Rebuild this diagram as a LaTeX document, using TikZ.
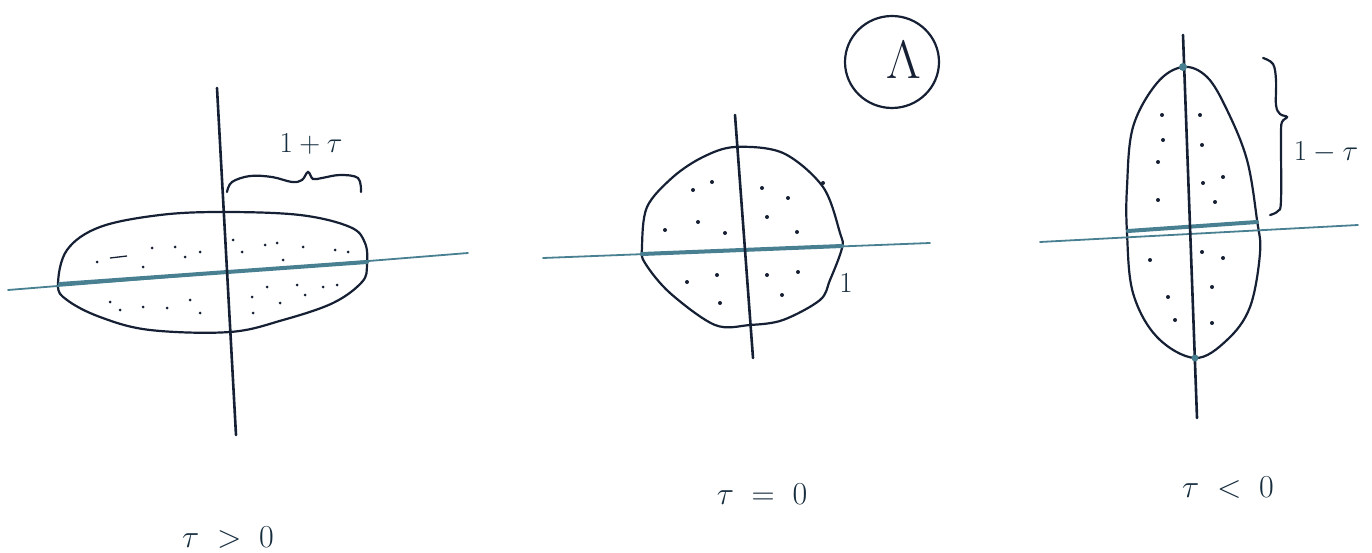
\RequirePackage{fix-cm}
\documentclass[tikz,border=0pt]{standalone}
\usetikzlibrary{calc}
\definecolor{axiscol}{RGB}{72,128,145}
\definecolor{inkcol}{RGB}{22,32,52}
\definecolor{textcol}{RGB}{22,45,62}
\begin{document}
\begin{tikzpicture}[x=1pt,y=-1pt,
  vaxis/.style={draw=inkcol,line width=2.6pt,line cap=round},
  haxis/.style={draw=axiscol,line width=1.8pt,line cap=round},
  diam/.style={draw=axiscol,line width=4pt,line cap=round},
  outline/.style={draw=inkcol,line width=2.2pt},
  brace/.style={draw=inkcol,line width=2.2pt,line cap=round},
  lbl/.style={text=textcol,inner sep=0pt,font=\fontsize{32}{38}\selectfont},
  small/.style={text=textcol,inner sep=0pt,font=\fontsize{29}{34}\selectfont},
  dotmark/.style={fill=inkcol,draw=none}]
\useasboundingbox (0,0) rectangle (1372,553);
\fill[white] (0,0) rectangle (1372,553);

% ---------- left figure: tau > 0 ----------
\coordinate (LvT) at (217,88);
\coordinate (LvB) at (236,435);
\coordinate (LhL) at (8,290);
\coordinate (LhR) at (468,253);
\coordinate (LeL) at (60,284);
\coordinate (LeR) at (367,262);
\draw[outline] plot[smooth cycle,tension=0.6] coordinates {
  (58,285) (67,250) (100,227) (160,215) (223,212) (300,215) (350,227) (365,243)
  (367,265) (362,282) (333,303) (283,320) (230,332) (150,330) (100,317) (67,300)};
\draw[haxis] (LhL) -- (LhR);
\draw[diam] (LeL) -- (LeR);
\draw[vaxis] (LvT) -- (LvB);
\foreach \p in {(97,262),(152,248),(143,267),(175,247),(185,257),(200,252),
  (233,240),(242,252),(265,245),(277,243),(283,260),(303,247),(335,250),(348,252),
  (110,302),(120,310),(143,307),(167,308),(190,300),(200,313),
  (252,297),(267,287),(280,303),(297,285),(305,295),(323,287),(337,285),(253,313)}
  \fill[dotmark] \p circle (1.5);
\draw[inkcol,line width=1.3pt] (110,258) -- (127,256);
\draw[brace] plot[smooth,tension=0.6] coordinates {
  (227,192) (232,182) (250,176) (272,177) (292,182) (302,180) (308,172) (313,179)
  (322,178) (340,175) (358,178) (361,192)};
\node[small] (Lbr) at (311,144) {$1+\tau$};
\node[lbl] (Llab) at (228,538) {$\tau\;>\;0$};

% ---------- middle figure: tau = 0 ----------
\coordinate (MvT) at (735,115);
\coordinate (MvB) at (753,358);
\coordinate (MhL) at (543,258);
\coordinate (MhR) at (930,243);
\coordinate (MeL) at (642,254);
\coordinate (MeR) at (842,246);
\draw[outline] plot[smooth cycle,tension=0.55] coordinates {
  (735,147) (783,153) (823,187) (840,233) (842,248) (830,280) (820,300) (783,320)
  (750,325) (715,325) (670,293) (645,263) (642,247) (647,207) (673,177) (703,157)};
\draw[haxis] (MhL) -- (MhR);
\draw[diam] (MeL) -- (MeR);
\draw[vaxis] (MvT) -- (MvB);
\foreach \p in {(693,190),(712,182),(665,230),(698,222),(725,233),(762,188),(788,198),
  (767,217),(797,232),(687,282),(717,275),(720,303),(767,275),(798,272),(782,295),(823,183)}
  \fill[dotmark] \p circle (2);
\node[small] (Mone) at (846,283) {$1$};
\node[lbl] (Mlab) at (762,494) {$\tau\;=\;0$};
\draw[inkcol,line width=2.2pt] (892,62) ellipse (47 and 46);
\node[text=inkcol,inner sep=0pt,font=\fontsize{54}{60}\selectfont] (Lam) at (904,60) {$\Lambda$};

% ---------- right figure: tau < 0 ----------
\coordinate (RvT) at (1183,35);
\coordinate (RvB) at (1197,418);
\coordinate (RhL) at (1040,242);
\coordinate (RhR) at (1358,225);
\coordinate (ReL) at (1128,231);
\coordinate (ReR) at (1257,222);
\draw[outline] plot[smooth cycle,tension=0.6] coordinates {
  (1183,67) (1207,77) (1227,110) (1247,160) (1257,220) (1260,253) (1250,307) (1227,340)
  (1195,358) (1157,337) (1133,293) (1127,233) (1127,187) (1133,127) (1157,83)};
\draw[haxis] (RhL) -- (RhR);
\draw[diam] (ReL) -- (ReR);
\draw[vaxis] (RvT) -- (RvB);
\fill[axiscol] (1183,67) circle (4);
\fill[axiscol] (1195,358) circle (3.5);
\foreach \p in {(1162,115),(1200,115),(1163,140),(1202,145),(1158,162),(1203,183),(1223,177),
  (1158,200),(1215,202),(1150,260),(1202,252),(1223,258),(1168,297),(1212,287),(1175,320),(1212,323)}
  \fill[dotmark] \p circle (2);
\draw[brace] plot[smooth,tension=0.6] coordinates {
  (1263,58) (1273,64) (1276,80) (1276,105) (1280,114) (1287,117) (1282,122) (1281,135)
  (1281,200) (1278,211) (1270,215)};
\node[small] (Rbr) at (1326,152) {$1-\tau$};
\node[lbl] (Rlab) at (1228,488) {$\tau\;<\;0$};
\end{tikzpicture}
\end{document}
